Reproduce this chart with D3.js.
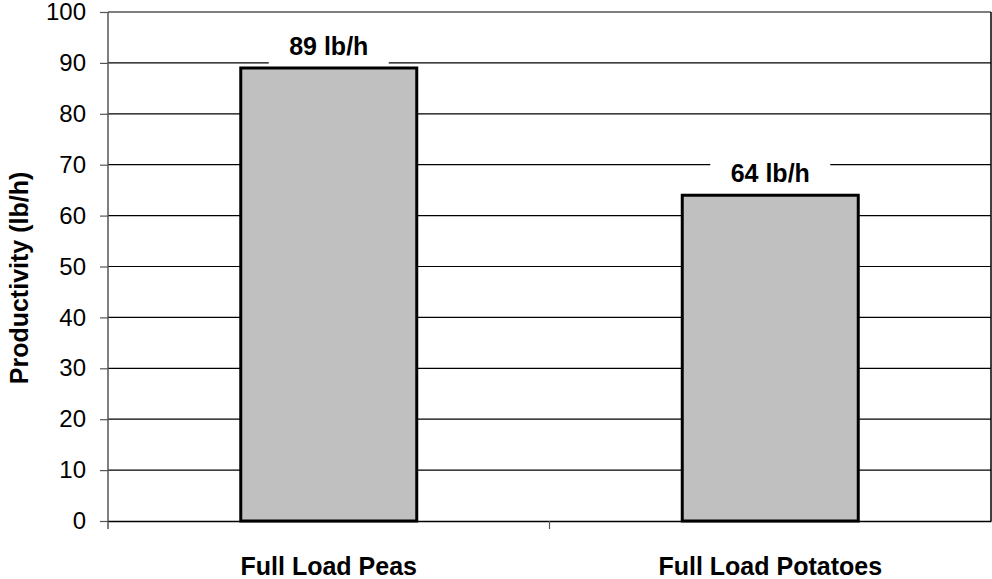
<!DOCTYPE html>
<html>
<head>
<meta charset="utf-8">
<script src="https://cdn.jsdelivr.net/npm/d3@7"></script>
<style>
  body { margin: 0; background: #fff; }
  text { font-family: "Liberation Sans", Arial, sans-serif; }
</style>
</head>
<body>
<svg id="chart" width="992" height="579"></svg>
<script>
const categories = ["Full Load Peas", "Full Load Potatoes"];
const values = [89, 64];
const valueLabels = ["89 lb/h", "64 lb/h"];
const yTicks = [0, 10, 20, 30, 40, 50, 60, 70, 80, 90, 100];

const plotL = 108, plotR = 991, plotT = 12, plotB = 521;
const svg = d3.select("#chart");

const x = d3.scaleBand().domain(categories).range([plotL, plotR]).paddingInner(0).paddingOuter(0);
const y = d3.scaleLinear().domain([0, 100]).range([plotB, plotT]);
const barW = 176;

// gridlines
svg.append("g").selectAll("line")
  .data(yTicks.filter(d => d > 0))
  .enter().append("line")
  .attr("x1", plotL).attr("x2", plotR)
  .attr("y1", d => y(d)).attr("y2", d => y(d))
  .attr("stroke", "#000").attr("stroke-width", 1.2);

// right border
svg.append("line").attr("x1", plotR).attr("x2", plotR).attr("y1", plotT).attr("y2", plotB)
  .attr("stroke", "#000").attr("stroke-width", 1.5);

// y axis
const yAxis = svg.append("g")
  .attr("transform", "translate(" + plotL + ",0)")
  .call(d3.axisLeft(y).tickValues(yTicks).tickSize(8).tickPadding(14));
yAxis.select(".domain").attr("stroke", "#555").attr("stroke-width", 1.5).attr("d", "M0," + (plotB + 8) + "V" + plotT);
yAxis.selectAll(".tick line").attr("stroke", "#555").attr("stroke-width", 1.2);
yAxis.selectAll(".tick text").attr("font-size", 24).attr("fill", "#000")
  .attr("font-family", "Liberation Sans, Arial, sans-serif");

// x axis baseline and ticks
const xAxis = svg.append("g")
  .attr("transform", "translate(0," + plotB + ")")
  .call(d3.axisBottom(x).tickSize(0).tickFormat(""));
xAxis.select(".domain").attr("stroke", "#000").attr("stroke-width", 1.5);
xAxis.selectAll(".tick").remove();
svg.append("g").selectAll("line")
  .data([plotL + x.bandwidth()])
  .enter().append("line")
  .attr("x1", d => d).attr("x2", d => d).attr("y1", plotB).attr("y2", plotB + 8)
  .attr("stroke", "#555").attr("stroke-width", 1.2);

// category labels
svg.append("g").selectAll("text")
  .data(categories)
  .enter().append("text")
  .attr("x", d => x(d) + x.bandwidth() / 2)
  .attr("y", 575)
  .attr("text-anchor", "middle")
  .attr("font-size", 25).attr("font-weight", "bold")
  .text(d => d);

// bars
svg.append("g").selectAll("rect")
  .data(values)
  .enter().append("rect")
  .attr("x", (d, i) => x(categories[i]) + x.bandwidth() / 2 - barW / 2)
  .attr("y", d => y(d))
  .attr("width", barW)
  .attr("height", d => y(0) - y(d))
  .attr("fill", "#c0c0c0")
  .attr("stroke", "#000").attr("stroke-width", 3);

// value labels with white backgrounds
const lab = svg.append("g").selectAll("g")
  .data(values)
  .enter().append("g")
  .attr("transform", (d, i) => "translate(" + (x(categories[i]) + x.bandwidth() / 2) + "," + (y(d) - 13) + ")");
lab.append("rect")
  .attr("x", -60).attr("y", -28).attr("width", 120).attr("height", 38)
  .attr("fill", "#fff");
lab.append("text")
  .attr("text-anchor", "middle")
  .attr("font-size", 25).attr("font-weight", "bold")
  .text((d, i) => valueLabels[i]);

// y title
svg.append("text")
  .attr("transform", "translate(28,278) rotate(-90)")
  .attr("text-anchor", "middle")
  .attr("font-size", 25).attr("font-weight", "bold")
  .text("Productivity (lb/h)");
</script>
</body>
</html>
